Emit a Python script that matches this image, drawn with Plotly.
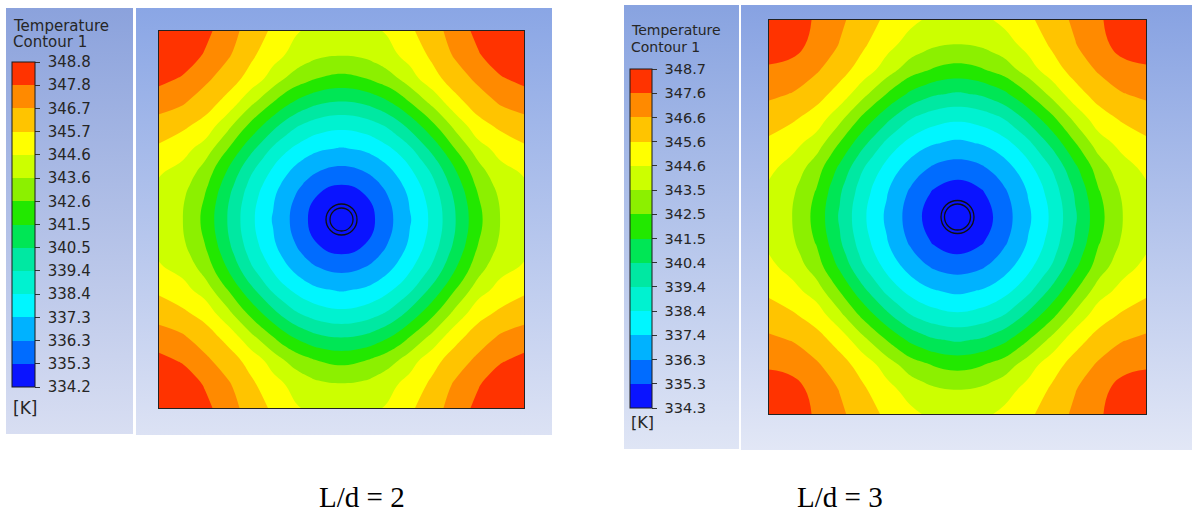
import base64
import plotly.graph_objects as go

W, H = 1192, 512

# ---------------------------------------------------------------------------
# Data
# ---------------------------------------------------------------------------
# Legend tick labels (K) for the two cases
labels_ld2 = ["334.2", "335.3", "336.3", "337.3", "338.4", "339.4", "340.5", "341.5",
              "342.6", "343.6", "344.6", "345.7", "346.7", "347.8", "348.8"]
labels_ld3 = ["334.3", "335.3", "336.3", "337.4", "338.4", "339.4", "340.4", "341.5",
              "342.5", "343.5", "344.6", "345.6", "346.6", "347.6", "348.7"]

# Sample positions from the pipe centre to the cell wall (normalised)
quarter_pos = [0.0, 0.125, 0.1875, 0.25, 0.3125, 0.375, 0.5, 0.625, 0.75, 0.875, 1.0]

# Temperature (K) on one quarter of the cell; row = |y| index, column = |x| index
temp_ld2 = [
    [334.20, 334.65, 335.28, 335.93, 336.59, 337.25, 338.65, 340.42, 342.29, 343.65, 344.10],
    [334.65, 335.17, 335.67, 336.24, 336.84, 337.47, 338.88, 340.67, 342.54, 343.79, 344.37],
    [335.28, 335.67, 336.09, 336.59, 337.14, 337.73, 339.18, 340.98, 342.84, 344.01, 344.51],
    [335.93, 336.24, 336.59, 337.01, 337.52, 338.15, 339.56, 341.39, 343.18, 344.29, 344.72],
    [336.59, 336.84, 337.14, 337.52, 338.02, 338.64, 340.13, 341.93, 343.62, 344.65, 345.10],
    [337.25, 337.47, 337.73, 338.15, 338.64, 339.24, 340.81, 342.58, 344.19, 345.05, 345.49],
    [338.65, 338.88, 339.18, 339.56, 340.13, 340.81, 342.33, 343.94, 345.34, 345.90, 346.30],
    [340.42, 340.67, 340.98, 341.39, 341.93, 342.58, 343.94, 345.37, 346.19, 346.88, 347.18],
    [342.29, 342.54, 342.84, 343.18, 343.62, 344.19, 345.34, 346.19, 346.98, 347.68, 348.06],
    [343.65, 343.79, 344.01, 344.29, 344.65, 345.05, 345.90, 346.88, 347.68, 348.41, 348.61],
    [344.10, 344.37, 344.51, 344.72, 345.10, 345.49, 346.30, 347.18, 348.06, 348.61, 348.80],
]
temp_ld3 = [
    [334.30, 334.70, 335.28, 335.90, 336.57, 337.20, 338.60, 340.35, 342.20, 343.55, 344.00],
    [334.70, 335.20, 335.67, 336.20, 336.82, 337.45, 338.85, 340.60, 342.45, 343.70, 344.37],
    [335.28, 335.67, 336.08, 336.57, 337.11, 337.70, 339.12, 340.92, 342.75, 343.93, 344.58],
    [335.90, 336.20, 336.57, 337.00, 337.50, 338.10, 339.50, 341.30, 343.05, 344.20, 344.81],
    [336.57, 336.82, 337.11, 337.50, 338.00, 338.60, 340.08, 341.88, 343.55, 344.55, 345.10],
    [337.20, 337.45, 337.70, 338.10, 338.60, 339.20, 340.75, 342.50, 344.10, 344.95, 345.41],
    [338.60, 338.85, 339.12, 339.50, 340.08, 340.75, 342.25, 343.85, 345.20, 345.75, 346.12],
    [340.35, 340.60, 340.92, 341.30, 341.88, 342.50, 343.85, 345.25, 346.00, 346.60, 346.84],
    [342.20, 342.45, 342.75, 343.05, 343.55, 344.10, 345.20, 346.00, 346.80, 347.30, 347.50],
    [343.55, 343.70, 343.93, 344.20, 344.55, 344.95, 345.75, 346.60, 347.30, 348.10, 348.38],
    [344.00, 344.37, 344.58, 344.81, 345.10, 345.41, 346.12, 346.84, 347.50, 348.38, 348.70],
]

captions = ["L/d = 2", "L/d = 3"]

# ---------------------------------------------------------------------------
# Styling
# ---------------------------------------------------------------------------
band_colors = ["#0a14ff", "#006cff", "#00b2ff", "#00f6ff", "#00f2d0", "#00e8a2",
               "#00e655", "#22e800", "#8cf000", "#ccff00", "#ffff00", "#ffc400",
               "#ff8a00", "#ff3300"]
n_band = len(band_colors)
colorscale = []
for k, c in enumerate(band_colors):
    colorscale.append([k / n_band, c])
    colorscale.append([(k + 1) / n_band, c])

NBSP = "\u00a0"


def px_x(v):
    return v / W


def px_y(v):
    return 1 - v / H


def mirror(quarter):
    """Unfold a quarter-cell table into the full symmetric cell."""
    rows = [list(reversed(r[1:])) + r for r in quarter]
    return list(reversed(rows[1:])) + rows


full_pos = [-p for p in reversed(quarter_pos[1:])] + quarter_pos

# panel geometry in pixels
panels = [
    dict(temp=temp_ld2, labels=labels_ld2, rect=(159, 31, 524, 408),
         bar=(12, 62, 23, 325), tick_font=15,
         title_xy=(11, 26, 42), unit_y=408, title_size=15,
         pipe=(15.5, 11.5), caption_x=362),
    dict(temp=temp_ld3, labels=labels_ld3, rect=(769, 20, 1146, 414),
         bar=(630, 69, 22, 339), tick_font=14.5,
         title_xy=(629, 30, 47), unit_y=422, title_size=14,
         pipe=(16.5, 13), caption_x=840),
]

fig = go.Figure()
layout_axes = {}
shapes = []
annotations = []

for idx, p in enumerate(panels):
    sfx = "" if idx == 0 else str(idx + 1)
    x0, y0, x1, y1 = p["rect"]
    lo = float(p["labels"][0])
    hi = float(p["labels"][-1])
    step = (hi - lo) / n_band
    tickvals = [lo + k * step for k in range(n_band + 1)]
    bx, by, bw, blen = p["bar"]

    fig.add_trace(go.Contour(
        z=mirror(p["temp"]), x=full_pos, y=full_pos,
        zmin=lo, zmax=hi, colorscale=colorscale,
        autocontour=False,
        contours=dict(start=lo, end=hi, size=step, coloring="fill", showlines=False),
        line=dict(width=0, smoothing=1.3),
        xaxis="x" + sfx, yaxis="y" + sfx,
        hoverinfo="skip",
        colorbar=dict(
            x=px_x(bx), xanchor="left", xpad=0,
            y=px_y(by), yanchor="top", ypad=0,
            len=blen, lenmode="pixels",
            thickness=bw, thicknessmode="pixels",
            outlinewidth=1, outlinecolor="#1a1a1a",
            tickmode="array", tickvals=tickvals,
            ticktext=[NBSP + t for t in p["labels"]],
            ticks="outside", ticklen=5, tickwidth=1, tickcolor="#333",
            tickfont=dict(family="DejaVu Sans", size=p["tick_font"], color="#262626"),
        ),
    ))

    ax = dict(range=[-1, 1], showgrid=False, zeroline=False, showticklabels=False,
              ticks="", showline=True, mirror=True, linecolor="#222", linewidth=1,
              fixedrange=True)
    layout_axes["xaxis" + sfx] = dict(ax, domain=[px_x(x0), px_x(x1)],
                                     anchor="y" + sfx)
    layout_axes["yaxis" + sfx] = dict(ax, domain=[px_y(y1), px_y(y0)],
                                     anchor="x" + sfx)

    # pipe wall: outer and inner circles at the cell centre
    hx = (x1 - x0) / 2
    hy = (y1 - y0) / 2
    for r in p["pipe"]:
        shapes.append(dict(type="circle", xref="x" + sfx, yref="y" + sfx,
                           x0=-r / hx, x1=r / hx, y0=-r / hy, y1=r / hy,
                           line=dict(color="#111", width=1.3)))

    tx, ty1, ty2 = p["title_xy"]
    for txt, ty in (("Temperature", ty1), ("Contour 1", ty2)):
        annotations.append(dict(text=txt, x=px_x(tx), y=px_y(ty), xref="paper",
                                yref="paper", xanchor="left", yanchor="middle",
                                showarrow=False,
                                font=dict(family="DejaVu Sans", size=p["title_size"],
                                          color="#262626")))
    annotations.append(dict(text="[K]", x=px_x(tx), y=px_y(p["unit_y"]),
                            xref="paper", yref="paper", xanchor="left",
                            yanchor="middle", showarrow=False,
                            font=dict(family="DejaVu Sans", size=p["title_size"] + 2,
                                      color="#262626")))
    annotations.append(dict(text=captions[idx], x=px_x(p["caption_x"]), y=px_y(497),
                            xref="paper", yref="paper", xanchor="center",
                            yanchor="middle", showarrow=False,
                            font=dict(family="Liberation Serif", size=29,
                                      color="#000")))

# Gradient viewport backgrounds (legend and view panels)
bg_panels = [
    (6, 8, 133, 434, "#8ba2dc", "#d8def2"),
    (136, 8, 552, 435, "#8aa6e5", "#dce2f4"),
    (624, 5, 739, 449, "#88a3e0", "#dfe5f5"),
    (741, 5, 1192, 450, "#87a2e2", "#e2e7f6"),
]
defs = []
rects = []
for i, (a, b, c, d, top, bot) in enumerate(bg_panels):
    defs.append(f'<linearGradient id="g{i}" x1="0" y1="0" x2="0" y2="1">'
                f'<stop offset="0" stop-color="{top}"/>'
                f'<stop offset="1" stop-color="{bot}"/></linearGradient>')
    rects.append(f'<rect x="{a}" y="{b}" width="{c - a}" height="{d - b}" fill="url(#g{i})"/>')
svg = (f'<svg xmlns="http://www.w3.org/2000/svg" width="{W}" height="{H}" '
       f'viewBox="0 0 {W} {H}" preserveAspectRatio="none"><defs>{"".join(defs)}</defs>'
       f'{"".join(rects)}</svg>')
bg_src = "data:image/svg+xml;base64," + base64.b64encode(svg.encode()).decode()

fig.update_layout(
    width=W, height=H,
    margin=dict(l=0, r=0, t=0, b=0),
    paper_bgcolor="white",
    plot_bgcolor="rgba(0,0,0,0)",
    showlegend=False,
    shapes=shapes,
    annotations=annotations,
    images=[dict(source=bg_src, xref="paper", yref="paper", x=0, y=1,
                 sizex=1, sizey=1, xanchor="left", yanchor="top",
                 sizing="stretch", layer="below")],
    **layout_axes,
)

fig.write_html("out.html")
